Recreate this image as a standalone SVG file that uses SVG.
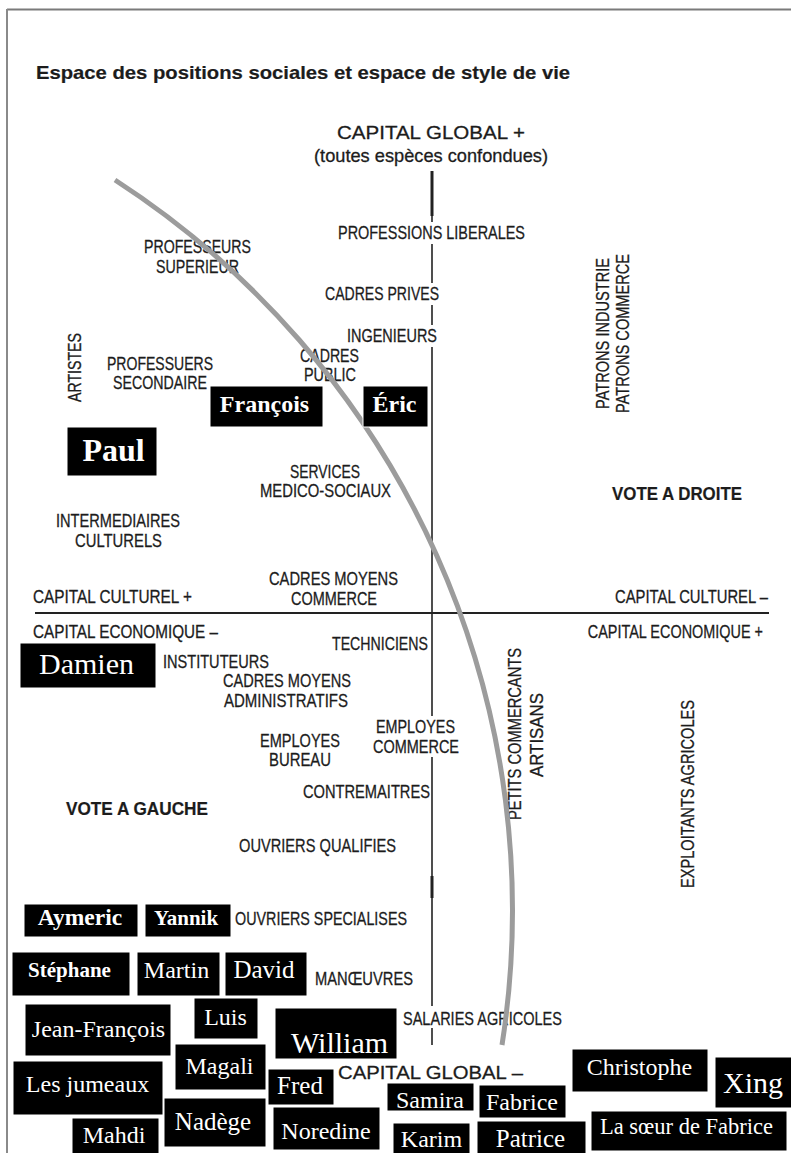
<svg xmlns="http://www.w3.org/2000/svg" width="791" height="1153" viewBox="0 0 791 1153">
<style>
.lb{font-family:"Liberation Sans",Arial,sans-serif;font-size:19px;fill:#1c1c1c;stroke:#1c1c1c;stroke-width:0.3}
.bd{font-weight:bold;stroke-width:0.2}
.vt{text-anchor:middle}
.en{text-anchor:end}
.nm{font-family:"Liberation Serif","Times New Roman",serif;fill:#fff;text-anchor:middle}
.bx{fill:#000;stroke:#fff;stroke-width:1}
.wb{fill:#fff}
.ax{stroke:#222;fill:none}
</style>
<rect width="791" height="1153" fill="#fff"/>
<g id="frame">
<line x1="7" y1="9.5" x2="791" y2="9.5" stroke="#7a7a7a" stroke-width="2"/>
<line x1="7" y1="9" x2="7" y2="1153" stroke="#8a8a8a" stroke-width="2"/>
</g>
<text id="title" class="lb bd" x="36" y="79" font-size="20" textLength="534" lengthAdjust="spacingAndGlyphs">Espace des positions sociales et espace de style de vie</text>
<g id="connectors">
<line class="ax" x1="432" y1="171" x2="432" y2="1045" stroke-width="1.6"/>
<line class="ax" x1="432" y1="171" x2="432" y2="216" stroke-width="3"/>
<line class="ax" x1="432" y1="876" x2="432" y2="898" stroke-width="3"/>
<line class="ax" x1="35" y1="613" x2="769" y2="613" stroke-width="1.8" stroke="#333"/>
</g>
<g id="axis-labels">
<text class="lb" x="337" y="139" font-size="21" textLength="188" lengthAdjust="spacingAndGlyphs">CAPITAL GLOBAL +</text>
<text class="lb" x="314" y="162" textLength="234" lengthAdjust="spacingAndGlyphs">(toutes espèces confondues)</text>
<text class="lb" x="33" y="603" textLength="159" lengthAdjust="spacingAndGlyphs">CAPITAL CULTUREL +</text>
<text class="lb" x="33" y="638" textLength="185" lengthAdjust="spacingAndGlyphs">CAPITAL ECONOMIQUE –</text>
<text class="lb en" transform="translate(768,603) scale(0.78,1)">CAPITAL CULTUREL –</text>
<text class="lb en" transform="translate(763,638) scale(0.76,1)">CAPITAL ECONOMIQUE +</text>
<text class="lb" x="338" y="1079" font-size="21" textLength="185" lengthAdjust="spacingAndGlyphs">CAPITAL GLOBAL –</text>
</g>
<g id="professions-liberales"><rect class="wb" x="336" y="222" width="192" height="22"/><text class="lb" x="338" y="239" textLength="187" lengthAdjust="spacingAndGlyphs">PROFESSIONS LIBERALES</text></g>
<g id="professeurs-superieur"><text class="lb" x="144" y="253" textLength="107" lengthAdjust="spacingAndGlyphs">PROFESSEURS</text><text class="lb" x="156" y="273" textLength="83" lengthAdjust="spacingAndGlyphs">SUPERIEUR</text></g>
<g id="cadres-prives"><rect class="wb" x="323" y="283" width="119" height="22"/><text class="lb" x="325" y="300" textLength="114" lengthAdjust="spacingAndGlyphs">CADRES PRIVES</text></g>
<g id="ingenieurs"><rect class="wb" x="345" y="325" width="95" height="22"/><text class="lb" x="347" y="342" textLength="90" lengthAdjust="spacingAndGlyphs">INGENIEURS</text></g>
<g id="cadres-public"><text class="lb" x="300" y="362" textLength="59" lengthAdjust="spacingAndGlyphs">CADRES</text><text class="lb" x="304" y="381" textLength="52" lengthAdjust="spacingAndGlyphs">PUBLIC</text></g>
<g id="professeurs-secondaire"><text class="lb" x="107" y="370" textLength="106" lengthAdjust="spacingAndGlyphs">PROFESSUERS</text><text class="lb" x="113" y="389" textLength="94" lengthAdjust="spacingAndGlyphs">SECONDAIRE</text></g>
<g id="artistes"><text class="lb vt" transform="translate(81,367.5) rotate(-90)" textLength="69" lengthAdjust="spacingAndGlyphs">ARTISTES</text></g>
<g id="patrons"><text class="lb vt" transform="translate(609,333.5) rotate(-90)" textLength="151" lengthAdjust="spacingAndGlyphs">PATRONS INDUSTRIE</text><text class="lb vt" transform="translate(629,333.5) rotate(-90)" textLength="159" lengthAdjust="spacingAndGlyphs">PATRONS COMMERCE</text></g>
<g id="services"><text class="lb" x="290" y="478" textLength="70" lengthAdjust="spacingAndGlyphs">SERVICES</text><text class="lb" x="260" y="497" textLength="131" lengthAdjust="spacingAndGlyphs">MEDICO-SOCIAUX</text></g>
<g id="vote-droite"><text class="lb bd" x="612" y="500" font-size="20" textLength="130" lengthAdjust="spacingAndGlyphs">VOTE A DROITE</text></g>
<g id="intermediaires"><text class="lb" x="56" y="527" textLength="124" lengthAdjust="spacingAndGlyphs">INTERMEDIAIRES</text><text class="lb" x="75" y="547" textLength="87" lengthAdjust="spacingAndGlyphs">CULTURELS</text></g>
<g id="cadres-moyens-commerce"><text class="lb" x="269" y="585" textLength="129" lengthAdjust="spacingAndGlyphs">CADRES MOYENS</text><text class="lb" x="291" y="605" textLength="86" lengthAdjust="spacingAndGlyphs">COMMERCE</text></g>
<g id="techniciens"><text class="lb" x="332" y="650" textLength="96" lengthAdjust="spacingAndGlyphs">TECHNICIENS</text></g>
<g id="instituteurs"><text class="lb" x="163" y="668" textLength="106" lengthAdjust="spacingAndGlyphs">INSTITUTEURS</text></g>
<g id="cadres-moyens-admin"><text class="lb" x="223" y="687" textLength="128" lengthAdjust="spacingAndGlyphs">CADRES MOYENS</text><text class="lb" x="224" y="707" textLength="124" lengthAdjust="spacingAndGlyphs">ADMINISTRATIFS</text></g>
<g id="employes-commerce"><rect class="wb" x="371" y="716" width="90" height="41"/><text class="lb" x="376" y="733" textLength="79" lengthAdjust="spacingAndGlyphs">EMPLOYES</text><text class="lb" x="373" y="753" textLength="86" lengthAdjust="spacingAndGlyphs">COMMERCE</text></g>
<g id="employes-bureau"><text class="lb" x="260" y="747" textLength="80" lengthAdjust="spacingAndGlyphs">EMPLOYES</text><text class="lb" x="269" y="766" textLength="62" lengthAdjust="spacingAndGlyphs">BUREAU</text></g>
<g id="petits-commercants"><text class="lb vt" transform="translate(521,734) rotate(-90)" textLength="172" lengthAdjust="spacingAndGlyphs">PETITS COMMERCANTS</text><text class="lb vt" transform="translate(543,735) rotate(-90)" textLength="84" lengthAdjust="spacingAndGlyphs">ARTISANS</text></g>
<g id="contremaitres"><text class="lb" x="303" y="798" textLength="127" lengthAdjust="spacingAndGlyphs">CONTREMAITRES</text></g>
<g id="vote-gauche"><text class="lb bd" x="66" y="815" font-size="20" textLength="142" lengthAdjust="spacingAndGlyphs">VOTE A GAUCHE</text></g>
<g id="exploitants"><text class="lb vt" transform="translate(694,794) rotate(-90)" textLength="188" lengthAdjust="spacingAndGlyphs">EXPLOITANTS AGRICOLES</text></g>
<g id="ouvriers-qualifies"><text class="lb" x="239" y="852" textLength="157" lengthAdjust="spacingAndGlyphs">OUVRIERS QUALIFIES</text></g>
<g id="ouvriers-specialises"><text class="lb" x="235" y="925" textLength="172" lengthAdjust="spacingAndGlyphs">OUVRIERS SPECIALISES</text></g>
<g id="manoeuvres"><text class="lb" x="315" y="985" textLength="98" lengthAdjust="spacingAndGlyphs">MANŒUVRES</text></g>
<g id="salaries-agricoles"><rect class="wb" x="401" y="1006" width="164" height="22"/><text class="lb" x="403" y="1025" textLength="159" lengthAdjust="spacingAndGlyphs">SALARIES AGRICOLES</text></g>
<g id="curve-group">
<path d="M115,180 A870,870 0 0 1 502,1045" fill="none" stroke="#9c9c9c" stroke-width="5"/>
</g>
<g id="francois"><rect class="bx" x="210" y="386" width="113" height="41"/><text class="nm bd" x="264.5" y="412" font-size="24">François</text></g>
<g id="eric"><rect class="bx" x="363" y="386" width="65" height="41"/><text class="nm bd" x="394.5" y="412" font-size="24">Éric</text></g>
<g id="paul"><rect class="bx" x="67" y="427" width="90" height="49"/><text class="nm bd" x="113.5" y="461" font-size="32">Paul</text></g>
<g id="damien"><rect class="bx" x="20" y="643" width="136" height="45"/><text class="nm" x="86.5" y="674" font-size="30">Damien</text></g>
<g id="aymeric"><rect class="bx" x="24" y="904" width="114" height="33"/><text class="nm bd" x="80" y="925" font-size="23.5">Aymeric</text></g>
<g id="yannik"><rect class="bx" x="145" y="904" width="86" height="33"/><text class="nm bd" x="186" y="925" font-size="21">Yannik</text></g>
<g id="stephane"><rect class="bx" x="12" y="952" width="118" height="44"/><text class="nm bd" x="69.5" y="977" font-size="21">Stéphane</text></g>
<g id="martin"><rect class="bx" x="137" y="952" width="83" height="44"/><text class="nm" x="176.5" y="978" font-size="24">Martin</text></g>
<g id="david"><rect class="bx" x="225" y="952" width="82" height="44"/><text class="nm" x="264" y="978" font-size="25">David</text></g>
<g id="jean-francois"><rect class="bx" x="25" y="1004" width="146" height="52"/><text class="nm" x="98.5" y="1037" font-size="24">Jean-François</text></g>
<g id="luis"><rect class="bx" x="194" y="998" width="64" height="41"/><text class="nm" x="225.5" y="1025" font-size="24">Luis</text></g>
<g id="william"><rect class="bx" x="275" y="1008" width="122" height="51"/><text class="nm" x="339.5" y="1053" font-size="30">William</text></g>
<g id="les-jumeaux"><rect class="bx" x="13" y="1061" width="150" height="54"/><text class="nm" x="87.5" y="1092" font-size="24">Les jumeaux</text></g>
<g id="magali"><rect class="bx" x="175" y="1044" width="91" height="46"/><text class="nm" x="219.5" y="1074" font-size="24">Magali</text></g>
<g id="fred"><rect class="bx" x="268" y="1069" width="66" height="36"/><text class="nm" x="300" y="1094" font-size="25">Fred</text></g>
<g id="nadege"><rect class="bx" x="164" y="1098" width="102" height="49"/><text class="nm" x="213" y="1130" font-size="25">Nadège</text></g>
<g id="noredine"><rect class="bx" x="273" y="1107" width="107" height="43"/><text class="nm" x="326" y="1139" font-size="24">Noredine</text></g>
<g id="mahdi"><rect class="bx" x="72" y="1118" width="87" height="36"/><text class="nm" x="114" y="1143" font-size="24">Mahdi</text></g>
<g id="samira"><rect class="bx" x="387" y="1083" width="87" height="28"/><text class="nm" x="430" y="1108" font-size="24">Samira</text></g>
<g id="fabrice"><rect class="bx" x="479" y="1085" width="87" height="33"/><text class="nm" x="522" y="1110" font-size="24">Fabrice</text></g>
<g id="karim"><rect class="bx" x="393" y="1123" width="77" height="31"/><text class="nm" x="431.5" y="1147" font-size="24">Karim</text></g>
<g id="patrice"><rect class="bx" x="477" y="1121" width="109" height="33"/><text class="nm" x="530.5" y="1147" font-size="25">Patrice</text></g>
<g id="christophe"><rect class="bx" x="572" y="1049" width="136" height="43"/><text class="nm" x="639.5" y="1075" font-size="24">Christophe</text></g>
<g id="xing"><rect class="bx" x="715" y="1057" width="77" height="51"/><text class="nm" x="753" y="1093" font-size="30">Xing</text></g>
<g id="la-soeur-de-fabrice"><rect class="bx" x="591" y="1111" width="196" height="40"/><text class="nm" x="686.5" y="1134" font-size="22.5">La sœur de Fabrice</text></g>
</svg>
